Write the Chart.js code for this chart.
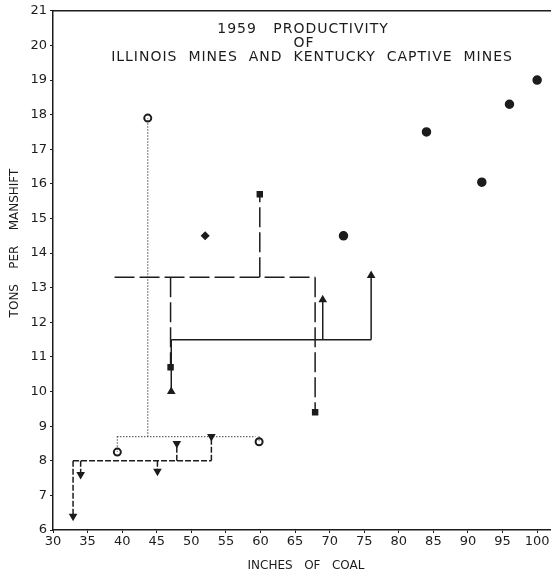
<html>
<head>
<script src="https://cdn.jsdelivr.net/npm/chart.js@4.4.1/dist/chart.umd.min.js"></script>
<style>
  body { margin: 0; background: #fff; }
  #wrap { width: 556px; height: 577px; }
</style>
</head>
<body>
<div id="wrap"><canvas id="prod"></canvas></div>
<script>
// open circles, joined by the dotted bracket
const circleX = [43.7, 39.3, 59.8];
const circleY = [17.9, 8.25, 8.55];
const circleLevel = 8.7;

// triangles down, dashed bracket
const downX = [32.9, 34.0, 45.1, 47.9, 52.9];
const downY = [6.4, 7.6, 7.7, 8.5, 8.7];
const downLevel = 8.0;

// squares, long dashed bracket
const squareX = [47.0, 59.9, 67.9];
const squareY = [10.7, 15.7, 9.4];
const squareLevel = 13.3;
const squareFrom = 38.9;

// triangles up, solid bracket
const upX = [47.1, 69.0, 76.0];
const upY = [10.0, 12.65, 13.35];
const upLevel = 11.5;

// single marks
const diamondX = [52.0];
const diamondY = [14.5];
const dotX = [72.0, 84.0, 92.0, 96.0, 100.0];
const dotY = [14.5, 17.5, 16.05, 18.3, 19.0];

const xTicks = [30, 35, 40, 45, 50, 55, 60, 65, 70, 75, 80, 85, 90, 95, 100];
const yTicks = [6, 7, 8, 9, 10, 11, 12, 13, 14, 15, 16, 17, 18, 19, 20, 21];

const titleLines = ['1959   PRODUCTIVITY', 'OF', 'ILLINOIS  MINES  AND  KENTUCKY  CAPTIVE  MINES'];
const xTitle = 'INCHES   OF   COAL';
const yTitle = 'TONS    PER    MANSHIFT';

const ink = '#1c1c1c';
const face = '"DejaVu Sans", sans-serif';

function pts(xs, ys) {
  return xs.map(function (x, i) { return { x: x, y: ys[i] }; });
}

// horizontal bar at level plus a vertical from it to each point, gaps between pieces
function bracket(xs, ys, level, from, to) {
  const gap = { x: null, y: null };
  let out = [{ x: from, y: level }, { x: to, y: level }, gap];
  for (let i = 0; i < xs.length; i++) {
    out.push({ x: xs[i], y: level }, { x: xs[i], y: ys[i] }, gap);
  }
  return out;
}

function lineSet(data, dash, width) {
  return {
    type: 'scatter', showLine: true, data: data,
    borderColor: ink, borderWidth: width, borderDash: dash,
    pointRadius: 0, spanGaps: false, fill: false
  };
}

function markSet(data, style, radius, fill, rotation, bw) {
  return {
    type: 'scatter', data: data,
    pointStyle: style, pointRadius: radius, rotation: rotation || 0,
    backgroundColor: fill, borderColor: ink, borderWidth: bw || 1.5
  };
}

const titles = {
  id: 'titles',
  afterDraw: function (chart) {
    const c = chart.ctx;
    c.save();
    c.fillStyle = ink;
    c.textAlign = 'center';
    c.textBaseline = 'middle';
    c.font = '14px ' + face;
    c.letterSpacing = '1px';
    c.fillText(titleLines[0], 303, 29);
    c.fillText(titleLines[1], 304, 43);
    c.fillText(titleLines[2], 312, 57);
    c.letterSpacing = '0px';
    c.font = '12px ' + face;
    c.fillText(xTitle, 306, 566);
    c.translate(15, 243);
    c.rotate(-Math.PI / 2);
    c.fillText(yTitle, 0, 0);
    c.restore();
  }
};

const ctx = document.getElementById('prod');
new Chart(ctx, {
  data: {
    datasets: [
      lineSet(bracket(circleX, circleY, circleLevel, Math.min.apply(null, circleX), Math.max.apply(null, circleX) - 0.5), [1, 2], 1.2),
      lineSet(bracket(downX, downY, downLevel, Math.min.apply(null, downX), Math.max.apply(null, downX)), [6, 2], 1.5),
      lineSet(bracket(squareX, squareY, squareLevel, squareFrom, Math.max.apply(null, squareX)), [20, 5], 1.5),
      lineSet(bracket(upX, upY, upLevel, Math.min.apply(null, upX), Math.max.apply(null, upX)), [], 1.5),
      markSet(pts(circleX, circleY), 'circle', 3.5, '#fff', 0, 2),
      markSet(pts(downX, downY), 'triangle', 3.5, ink, 180),
      markSet(pts(squareX, squareY), 'rect', 3.5, ink),
      markSet(pts(upX, upY), 'triangle', 3.5, ink),
      markSet(pts(diamondX, diamondY), 'rectRot', 3.5, ink),
      markSet(pts(dotX, dotY), 'circle', 4, ink)
    ]
  },
  options: {
    responsive: true,
    maintainAspectRatio: false,
    animation: false,
    layout: { padding: { top: 9, right: 0, left: 0, bottom: 0 } },
    plugins: { legend: { display: false }, tooltip: { enabled: false } },
    scales: {
      x: {
        type: 'linear', position: 'bottom', min: 30, max: 101.86,
        afterBuildTicks: function (s) { s.ticks = xTicks.map(function (v) { return { value: v }; }); },
        afterFit: function (s) { s.height = 47; },
        grid: { drawOnChartArea: false, tickLength: 3, color: ink },
        border: { display: true, color: ink, width: 1.5 },
        ticks: { color: ink, padding: 1, maxRotation: 0, autoSkip: false, font: { family: face, size: 13 } }
      },
      x2: {
        type: 'linear', position: 'top', min: 30, max: 101.86,
        afterFit: function (s) { s.height = 0; },
        grid: { display: false },
        border: { display: true, color: ink, width: 1.5 },
        ticks: { display: false }
      },
      y: {
        type: 'linear', min: 6, max: 21,
        afterBuildTicks: function (s) { s.ticks = yTicks.map(function (v) { return { value: v }; }); },
        afterFit: function (s) { s.width = 53; },
        grid: { drawOnChartArea: false, tickLength: 3, color: ink },
        border: { display: true, color: ink, width: 1.5 },
        ticks: { color: ink, padding: 3, autoSkip: false, font: { family: face, size: 13 } }
      }
    }
  },
  plugins: [titles]
});
</script>
</body>
</html>
